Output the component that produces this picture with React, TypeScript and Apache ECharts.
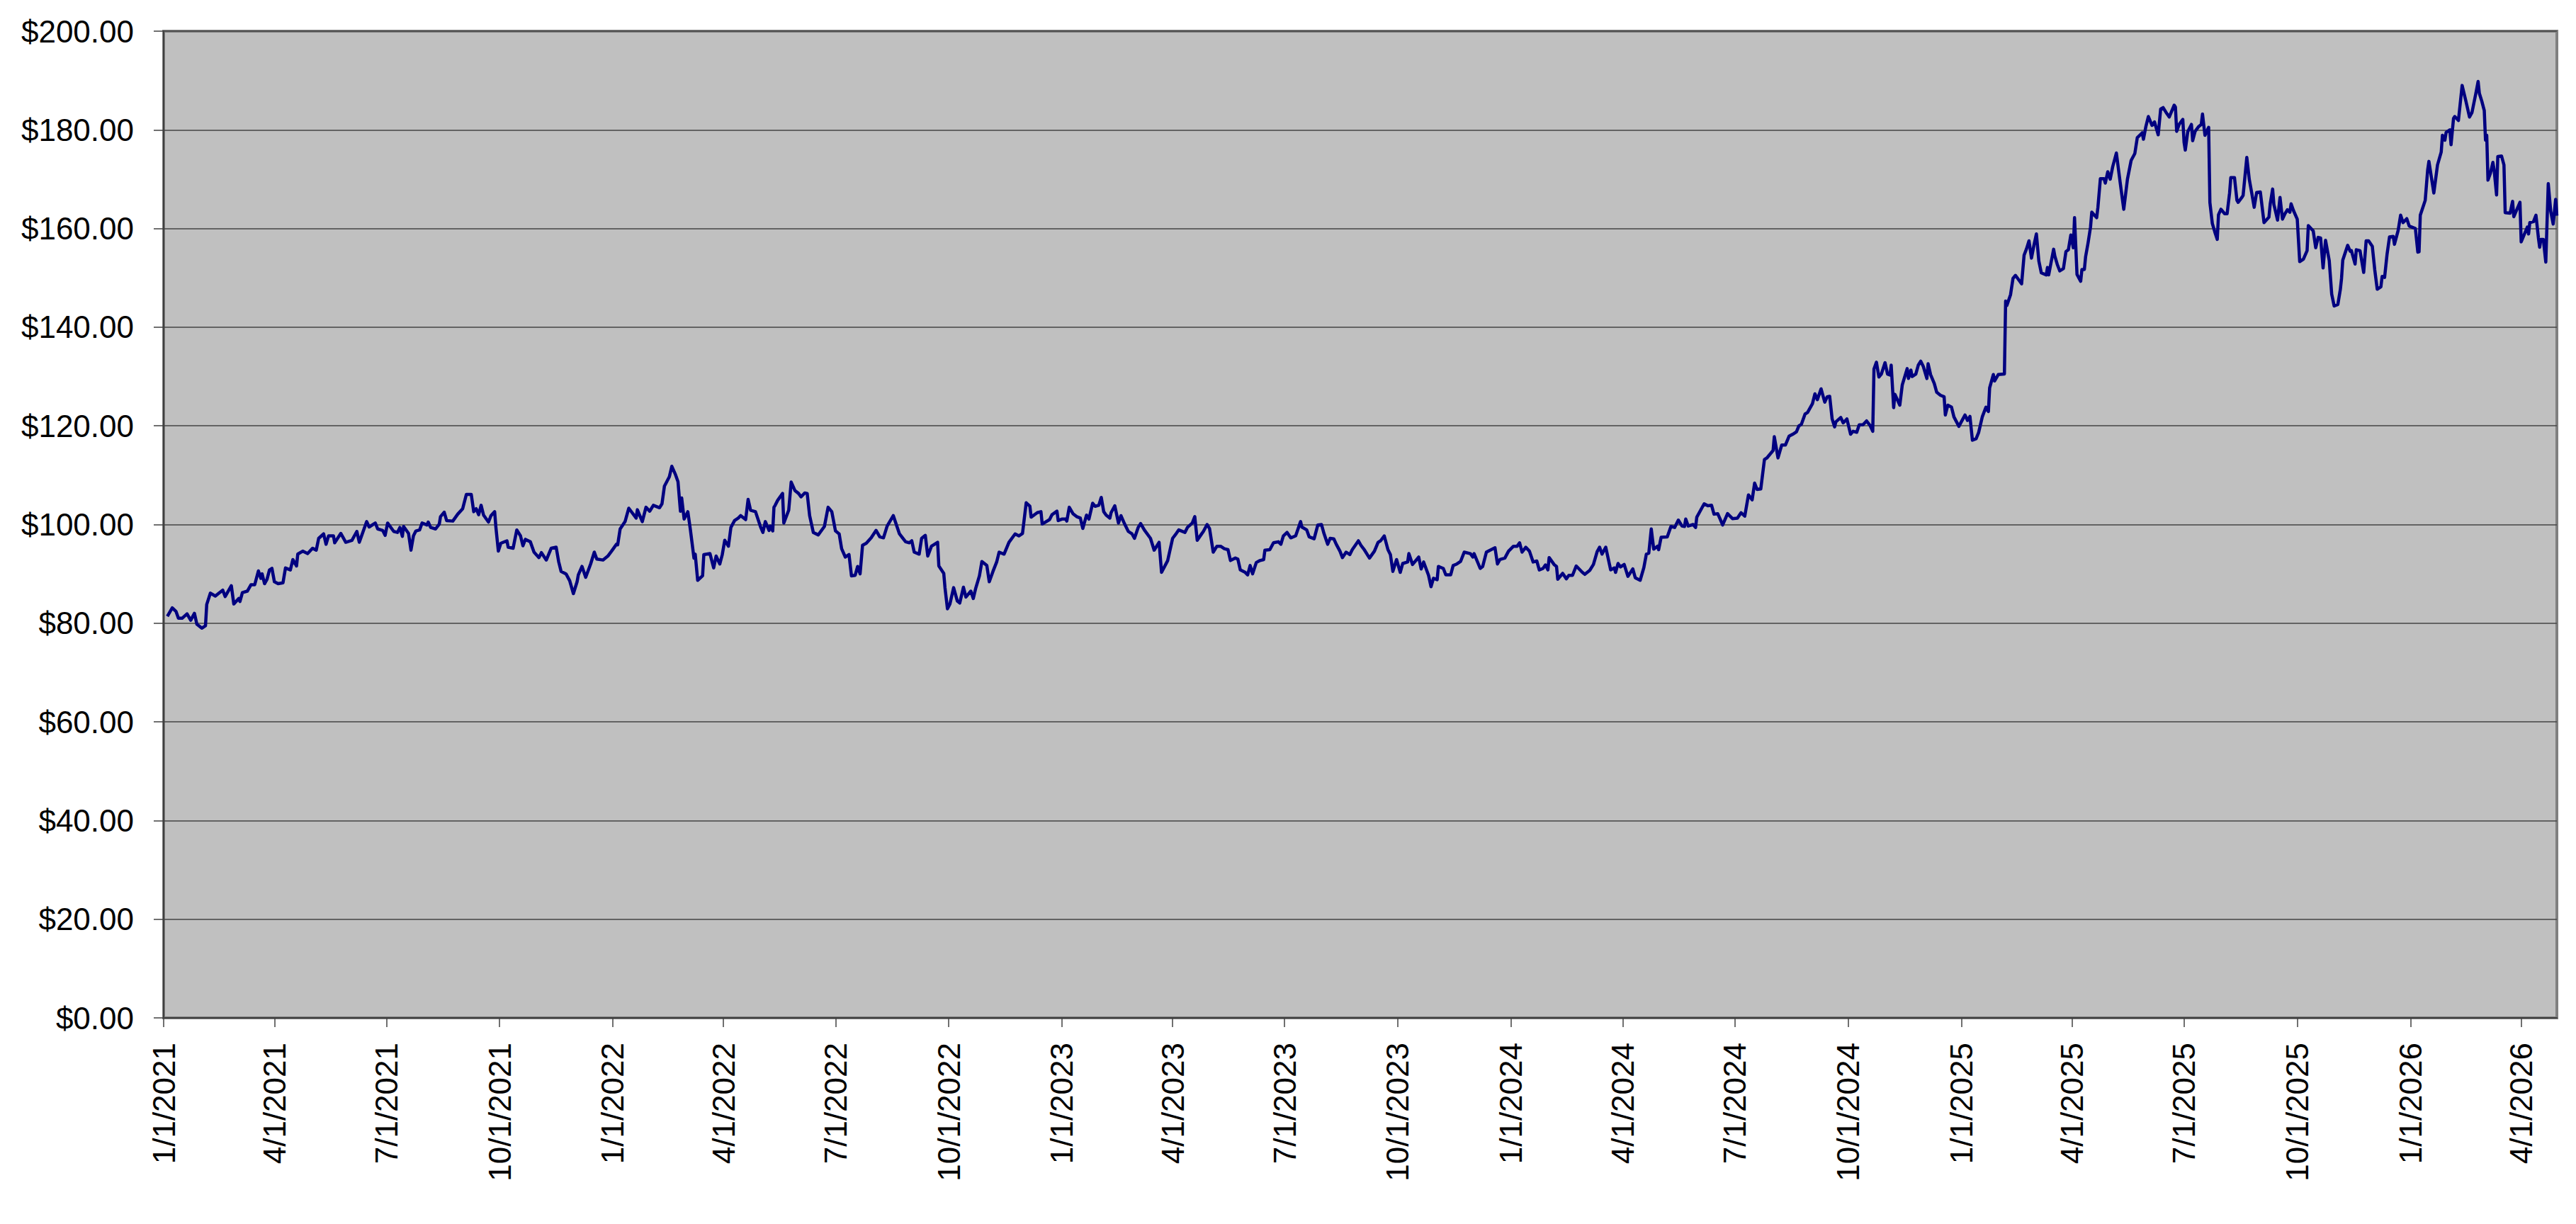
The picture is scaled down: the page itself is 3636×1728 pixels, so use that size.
import React, { useEffect, useRef } from "react";
import * as echarts from "echarts";

const FONT = "'Liberation Sans', Arial, Helvetica, sans-serif";

// Calendar start of the x axis and number of calendar days shown
const START_YEAR = 2021;
const TOTAL_DAYS = 1946;

// Tick labels on the date axis (quarter starts)
const tickLabels = [
  "1/1/2021", "4/1/2021", "7/1/2021", "10/1/2021",
  "1/1/2022", "4/1/2022", "7/1/2022", "10/1/2022",
  "1/1/2023", "4/1/2023", "7/1/2023", "10/1/2023",
  "1/1/2024", "4/1/2024", "7/1/2024", "10/1/2024",
  "1/1/2025", "4/1/2025", "7/1/2025", "10/1/2025",
  "1/1/2026", "4/1/2026",
];

// Y axis
const yMin = 0;
const yMax = 200;
const yStep = 20;

// Price series: [days since 1/1/2021, price]
const prices2021: [number, number][] = [
  [3,81.4],[7,83.1],[10,82.4],[12,81.0],[15,81.0],[19,81.9],[22,80.6],[25,82.0],[27,79.8],[31,79.0],[34,79.5],[35,83.8],[38,86.1],[42,85.5],[45,86.1],[48,86.7],[50,85.4],[55,87.6],[57,83.9],[61,85.0],[62,84.4],[64,86.2],[68,86.5],[71,87.8],[74,87.8],[77,90.6],[79,89.1],[80,90.0],[82,88.0],[84,88.9],[86,90.8],[88,91.1],[90,88.4],[93,88.0],[97,88.2],[99,91.2],[103,90.8],[105,92.9],[108,91.6],[109,94.0],[113,94.6],[117,94.1],[121,95.2],[124,94.8],[126,97.2],[130,98.1],[132,96.0],[134,97.7],[138,97.7],[139,96.3],[144,98.2],[148,96.4],[153,96.8],[157,98.6],[159,96.4],[165,100.6],[167,99.5],[172,100.3],[174,99.1],[178,98.8],[180,97.8],[182,100.3],[187,98.6],[190,98.4],[192,99.4],[194,97.6],[195,99.6],[199,98.2],[201,94.8],[203,97.7],[205,98.7],[208,98.9],[210,100.3],[214,99.9],[215,100.5],[217,99.4],[221,99.1],[224,100.1],[225,101.6],[228,102.5],[230,100.8],[235,100.7],[239,102.1],[243,103.2],[246,106.1],[250,106.1],[252,102.6],[254,103.2],[256,102.0],[258,103.9],[260,101.9],[264,100.5],[266,101.8],[269,102.6],[270,99.5],[272,94.6],[274,96.2],[279,96.7],[280,95.4],[284,95.2],[287,98.9],[290,97.7],[292,95.7],[294,97.0],[298,96.5],[301,94.4],[305,93.3],[307,94.3],[311,92.8],[315,95.2],[319,95.4],[321,92.5],[323,90.5],[327,90.0],[330,88.6],[333,86.0],[336,88.4],[337,89.8],[340,91.5],[343,89.3],[347,92.0],[350,94.4],[352,93.0],[357,92.8],[361,93.6],[364,94.6],
];

const prices2022: [number, number][] = [
  [368,96.0],[369,95.9],[371,99.1],[375,100.6],[378,103.3],[384,101.3],[385,103.0],[389,100.6],[392,103.5],[395,102.7],[398,103.9],[403,103.4],[405,104.2],[407,107.8],[411,109.7],[413,111.8],[416,110.1],[418,108.7],[420,102.7],[421,105.4],[423,101.1],[426,102.6],[428,99.1],[431,93.2],[432,94.0],[434,88.7],[438,89.6],[439,93.9],[444,94.1],[447,91.2],[449,93.6],[452,92.0],[454,93.9],[456,96.8],[459,95.6],[461,99.4],[464,100.8],[467,101.3],[469,101.8],[473,101.0],[475,105.1],[477,102.9],[481,102.6],[485,99.6],[487,98.4],[489,100.6],[492,98.8],[493,99.7],[495,98.7],[496,103.5],[497,103.9],[499,104.9],[503,106.3],[504,100.3],[508,102.9],[510,108.6],[513,106.9],[516,106.3],[518,105.6],[521,106.4],[523,106.3],[525,101.8],[528,98.4],[532,97.9],[537,99.6],[540,103.5],[543,102.6],[546,98.7],[549,98.1],[551,95.1],[554,93.4],[557,93.9],[559,89.6],[562,89.7],[564,91.5],[566,90.0],[568,95.8],[571,96.2],[575,97.3],[579,98.8],[582,97.5],[585,97.3],[588,99.7],[593,101.8],[598,98.1],[603,96.5],[606,96.3],[608,96.7],[610,94.4],[614,94.0],[616,97.2],[619,97.8],[621,93.6],[624,95.6],[629,96.4],[630,91.6],[634,90.1],[635,87.2],[637,82.9],[639,83.9],[642,87.2],[645,84.5],[647,84.1],[650,87.3],[652,85.3],[656,86.5],[658,85.0],[660,87.1],[663,89.6],[665,92.5],[669,91.7],[671,88.4],[674,90.5],[677,92.4],[679,94.4],[683,94.0],[687,96.4],[692,98.1],[695,97.7],[698,98.2],[701,104.4],[704,103.7],[705,101.5],[710,102.4],[713,102.6],[714,100.1],[720,101.0],[722,102.0],[726,102.7],[727,100.8],
];

const prices2023: [number, number][] = [
  [730,101.1],[733,101.1],[734,100.7],[736,103.5],[739,102.2],[742,101.6],[745,101.3],[747,99.2],[750,101.9],[752,101.1],[755,104.3],[757,103.7],[760,103.9],[762,105.5],[764,102.6],[766,101.9],[769,101.3],[770,102.4],[773,103.8],[776,100.3],[778,101.8],[781,100.1],[784,98.6],[787,98.1],[789,97.2],[792,99.4],[794,100.2],[797,98.9],[802,97.2],[805,94.8],[809,96.4],[811,90.3],[816,92.7],[820,97.2],[823,98.2],[825,98.9],[830,98.4],[832,99.4],[836,100.3],[838,101.6],[840,96.8],[843,97.9],[845,98.6],[848,100.0],[850,99.2],[853,94.4],[856,95.6],[859,95.6],[862,95.1],[865,94.9],[867,92.7],[871,93.2],[873,93.0],[875,90.8],[879,90.3],[881,89.8],[883,91.7],[885,90.0],[888,92.3],[891,92.7],[894,92.9],[895,94.8],[899,94.9],[902,96.3],[906,96.5],[908,96.0],[910,97.7],[913,98.4],[916,97.3],[920,97.7],[924,100.6],[925,99.5],[929,98.9],[931,97.5],[935,97.1],[938,99.9],[941,100.0],[943,98.2],[946,96.0],[948,97.2],[951,97.1],[953,96.0],[956,94.6],[958,93.3],[961,94.4],[964,93.9],[966,94.9],[971,96.7],[973,95.8],[976,94.8],[980,93.2],[984,94.6],[987,96.4],[989,96.7],[992,97.7],[995,94.9],[997,93.9],[999,90.5],[1002,92.9],[1005,90.3],[1007,92.1],[1011,92.4],[1012,94.1],[1015,91.9],[1020,93.4],[1022,91.0],[1024,92.4],[1028,89.7],[1030,87.4],[1032,89.1],[1035,88.8],[1036,91.5],[1040,91.1],[1042,89.8],[1046,89.8],[1048,91.7],[1051,92.0],[1054,92.5],[1057,94.4],[1062,94.1],[1064,93.4],[1065,94.1],[1070,91.1],[1072,91.5],[1075,94.4],[1078,94.8],[1082,95.3],[1084,92.0],[1086,92.9],[1090,93.2],[1093,94.6],
];

const prices2024: [number, number][] = [
  [1097,95.6],[1100,95.6],[1102,96.3],[1104,94.4],[1107,95.4],[1110,94.6],[1113,92.4],[1116,92.6],[1118,90.8],[1121,91.1],[1123,91.8],[1125,90.8],[1126,93.3],[1130,91.9],[1132,91.5],[1133,88.9],[1137,90.1],[1140,89.0],[1142,89.7],[1145,89.7],[1148,91.6],[1153,90.3],[1155,89.9],[1159,90.7],[1162,91.9],[1165,94.5],[1167,95.4],[1169,94.0],[1172,95.4],[1176,90.8],[1179,91.2],[1180,90.3],[1182,92.1],[1184,91.4],[1187,91.9],[1190,89.5],[1194,91.0],[1196,89.2],[1200,88.7],[1203,91.3],[1205,94.0],[1207,94.2],[1209,99.1],[1211,95.0],[1214,95.6],[1215,94.9],[1217,97.4],[1222,97.5],[1225,99.6],[1228,99.4],[1231,100.9],[1234,99.7],[1236,99.6],[1237,101.1],[1239,99.7],[1243,100.0],[1245,99.4],[1246,101.5],[1250,103.3],[1252,104.2],[1255,103.8],[1258,103.9],[1260,102.1],[1263,102.2],[1265,101.1],[1267,99.9],[1271,102.2],[1275,101.2],[1279,101.3],[1282,102.4],[1285,101.7],[1288,106.0],[1291,105.0],[1293,108.4],[1295,107.1],[1298,107.2],[1301,113.2],[1303,113.5],[1308,115.0],[1309,117.8],[1312,113.5],[1315,116.1],[1318,116.1],[1321,117.9],[1324,118.3],[1327,118.8],[1329,120.0],[1331,120.3],[1334,122.4],[1336,122.7],[1340,124.5],[1342,126.5],[1344,125.3],[1347,127.5],[1350,124.8],[1352,125.9],[1354,126.0],[1356,121.4],[1358,119.8],[1359,120.8],[1363,121.7],[1365,120.6],[1368,121.4],[1371,118.3],[1373,118.9],[1376,118.7],[1378,120.2],[1381,120.2],[1384,121.0],[1387,120.0],[1389,118.9],[1390,131.5],[1392,132.9],[1394,129.9],[1396,130.5],[1399,132.8],[1401,130.5],[1403,130.3],[1404,132.3],[1406,123.7],[1407,126.4],[1411,124.2],[1413,128.3],[1417,131.6],[1418,129.6],[1420,131.3],[1421,130.0],[1424,130.5],[1426,132.3],[1428,133.1],[1430,132.1],[1433,129.6],[1434,132.6],[1436,130.4],[1439,128.6],[1441,126.8],[1444,126.2],[1447,125.9],[1448,122.2],[1450,124.2],[1453,123.8],[1455,121.8],[1459,119.9],
];

const prices2025: [number, number][] = [
  [1464,122.2],[1466,121.1],[1468,121.9],[1470,117.1],[1473,117.4],[1475,118.6],[1478,121.8],[1481,123.8],[1483,122.9],[1484,127.7],[1487,130.4],[1488,129.1],[1491,130.4],[1496,130.5],[1497,145.3],[1498,144.4],[1501,146.6],[1503,149.9],[1505,150.5],[1510,148.8],[1512,154.6],[1514,155.9],[1516,157.5],[1518,154.0],[1520,156.6],[1522,158.9],[1524,153.4],[1526,151.0],[1530,150.6],[1531,152.1],[1532,150.6],[1536,155.8],[1537,154.4],[1539,152.7],[1541,151.4],[1544,151.9],[1546,155.3],[1548,155.7],[1550,158.7],[1552,156.1],[1553,162.2],[1555,150.7],[1558,149.3],[1559,151.7],[1561,151.7],[1562,154.3],[1564,157.1],[1566,160.3],[1567,163.3],[1571,162.2],[1572,164.3],[1574,170.1],[1577,170.1],[1578,169.2],[1580,171.5],[1582,170.0],[1584,172.5],[1587,175.3],[1590,169.5],[1593,163.9],[1596,170.0],[1599,173.8],[1602,175.2],[1604,178.4],[1608,179.4],[1609,178.1],[1611,180.7],[1613,182.7],[1616,180.9],[1618,181.6],[1621,179.0],[1623,184.2],[1625,184.5],[1628,183.3],[1630,182.6],[1634,185.0],[1635,184.6],[1636,179.7],[1638,181.1],[1641,182.1],[1642,177.5],[1643,175.9],[1645,179.6],[1648,181.1],[1649,177.8],[1651,179.7],[1654,180.7],[1656,181.1],[1657,183.2],[1659,178.9],[1662,180.5],[1663,165.3],[1665,161.0],[1667,159.3],[1669,157.8],[1670,162.8],[1672,163.9],[1675,163.0],[1677,163.0],[1679,167.2],[1680,170.3],[1683,170.3],[1685,165.7],[1686,165.3],[1689,166.3],[1690,166.7],[1693,174.4],[1695,170.0],[1697,167.2],[1699,164.3],[1701,167.3],[1704,167.4],[1707,161.2],[1711,162.3],[1712,164.9],[1714,168.0],[1715,164.9],[1718,161.7],[1720,166.3],[1722,161.9],[1724,163.0],[1726,163.8],[1728,163.3],[1729,165.0],[1731,163.6],[1734,161.9],[1736,153.3],[1739,153.8],[1742,155.5],[1743,160.6],[1747,159.5],[1749,156.1],[1751,158.2],[1753,158.1],[1755,152.0],[1757,157.6],[1760,153.5],[1762,146.7],[1764,144.3],[1767,144.6],[1769,147.6],[1770,149.9],[1771,153.6],[1775,156.6],[1777,155.4],[1778,155.5],[1781,152.8],[1782,155.7],[1785,155.5],[1788,151.1],[1790,157.5],[1792,157.5],[1795,156.4],[1797,151.6],[1799,147.7],[1802,148.2],[1803,150.3],[1805,150.1],[1807,154.8],[1809,158.3],[1812,158.4],[1813,156.8],[1816,159.6],[1818,162.7],[1820,161.2],[1823,162.0],[1825,160.5],
];

const prices2026: [number, number][] = [
  [1830,160.0],[1832,155.2],[1833,155.3],[1834,162.7],[1838,165.7],[1840,171.9],[1841,173.6],[1845,167.2],[1848,172.9],[1851,175.5],[1852,178.9],[1854,177.9],[1855,179.5],[1858,180.0],[1859,177.0],[1861,182.3],[1862,182.7],[1865,181.9],[1868,189.0],[1871,185.9],[1874,182.6],[1876,183.5],[1879,187.2],[1881,189.8],[1882,187.4],[1884,185.8],[1886,183.9],[1887,177.9],[1888,178.9],[1889,169.8],[1891,171.2],[1893,173.4],[1894,171.9],[1896,166.8],[1897,174.6],[1900,174.7],[1902,172.9],[1903,163.2],[1907,163.1],[1909,165.5],[1910,162.4],[1915,165.3],[1916,157.3],[1921,160.3],[1922,158.9],[1923,161.2],[1926,161.4],[1928,162.7],[1930,158.1],[1931,156.2],[1932,157.8],[1934,157.8],[1936,153.2],[1938,169.1],[1940,163.5],[1942,160.9],[1944,165.9],[1945,162.6],
];

function dayLabel(offset: number): string {
  const d = new Date(Date.UTC(START_YEAR, 0, 1) + offset * 86400000);
  return `${d.getUTCMonth() + 1}/${d.getUTCDate()}/${d.getUTCFullYear()}`;
}

const categories: string[] = Array.from({ length: TOTAL_DAYS }, (_, i) => dayLabel(i));
const tickSet = new Set(tickLabels);

const allPrices: [number, number][] = [
  ...prices2021, ...prices2022, ...prices2023, ...prices2024, ...prices2025, ...prices2026,
];
const seriesData = allPrices.map(([d, v]) => [categories[d], v]);

export default function App() {
  const ref = useRef<HTMLDivElement>(null);

  useEffect(() => {
    if (!ref.current) return;
    const chart = echarts.init(ref.current, null, { renderer: "svg" });
    const isTick = (_i: number, v: string) => tickSet.has(v);
    chart.setOption({
      animation: false,
      backgroundColor: "#ffffff",
      textStyle: { fontFamily: FONT },
      grid: {
        left: 231,
        right: 27,
        top: 44,
        bottom: 291,
        show: true,
        backgroundColor: "#C0C0C0",
        borderColor: "#808080",
        borderWidth: 4,
      },
      xAxis: {
        type: "category",
        data: categories,
        boundaryGap: false,
        axisLine: { show: true, onZero: false, lineStyle: { color: "#404040", width: 2 } },
        axisTick: {
          show: true,
          interval: isTick,
          length: 13,
          lineStyle: { color: "#404040", width: 1.5 },
        },
        axisLabel: {
          interval: isTick,
          rotate: 90,
          margin: 35,
          fontSize: 44,
          color: "#000000",
          fontFamily: FONT,
        },
        splitLine: { show: false },
      },
      yAxis: {
        type: "value",
        min: yMin,
        max: yMax,
        interval: yStep,
        axisLine: { show: true, lineStyle: { color: "#404040", width: 2 } },
        axisTick: { show: true, length: 14, lineStyle: { color: "#404040", width: 1.5 } },
        axisLabel: {
          formatter: (v: number) => "$" + v.toFixed(2),
          fontSize: 44,
          margin: 42,
          color: "#000000",
          fontFamily: FONT,
        },
        splitLine: { show: true, lineStyle: { color: "#444444", width: 1.5 } },
      },
      series: [
        {
          type: "line",
          data: seriesData,
          showSymbol: false,
          symbol: "none",
          lineStyle: { color: "#000080", width: 4.5, join: "round" },
          z: 3,
        },
      ],
    });
    return () => chart.dispose();
  }, []);

  return (
    <div
      ref={ref}
      style={{ position: "fixed", left: 0, top: 0, width: 3636, height: 1728, background: "#ffffff" }}
    />
  );
}
